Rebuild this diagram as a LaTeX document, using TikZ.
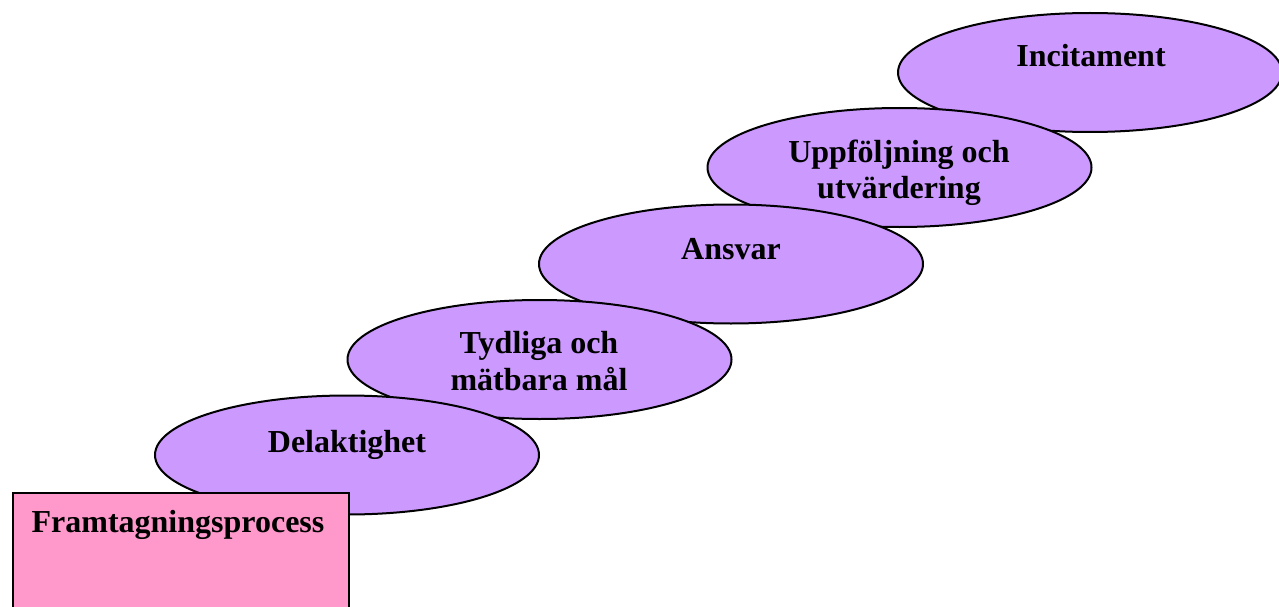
\documentclass[tikz,border=0pt]{standalone}
\usepackage{fontspec}
\setmainfont{Liberation Serif}
\usetikzlibrary{shapes.geometric}
\definecolor{ovalfill}{HTML}{CC99FF}
\definecolor{boxfill}{HTML}{FF99CC}
\tikzset{
  oval/.style={ellipse, draw=black, line width=2pt, fill=ovalfill, minimum width=384pt, minimum height=119pt, inner sep=0pt},
  procbox/.style={rectangle, draw=black, line width=2pt, fill=boxfill, minimum width=336pt, minimum height=160pt, inner sep=0pt, anchor=north west},
  lbl/.style={font=\fontsize{32}{37}\selectfont\bfseries, align=center, inner sep=0pt, anchor=base}
}
\begin{document}
\begin{tikzpicture}[x=1pt,y=-1pt]
\useasboundingbox (0,0) rectangle (1279,607);
\clip (0,0) rectangle (1279,607);
\node[oval] (e5) at (1090,72.5) {};
\node[oval] (e4) at (899.5,167.5) {};
\node[oval] (e3) at (731,264) {};
\node[oval] (e2) at (539.5,359.5) {};
\node[oval] (e1) at (347,455) {};
\node[procbox] (box) at (11.5,492) {};
\node[lbl] (t5) at (1091,67) {Incitament};
\node[lbl] (t4) at (899,162) {Uppföljning och};
\node[lbl] (t4b) at (899,198) {utvärdering};
\node[lbl] (t3) at (731,259) {Ansvar};
\node[lbl] (t2) at (539,353) {Tydliga och};
\node[lbl] (t2b) at (539,390) {mätbara mål};
\node[lbl] (t1) at (347,452) {Delaktighet};
\node[lbl] (t0) at (178,532) {Framtagningsprocess};
\end{tikzpicture}
\end{document}
